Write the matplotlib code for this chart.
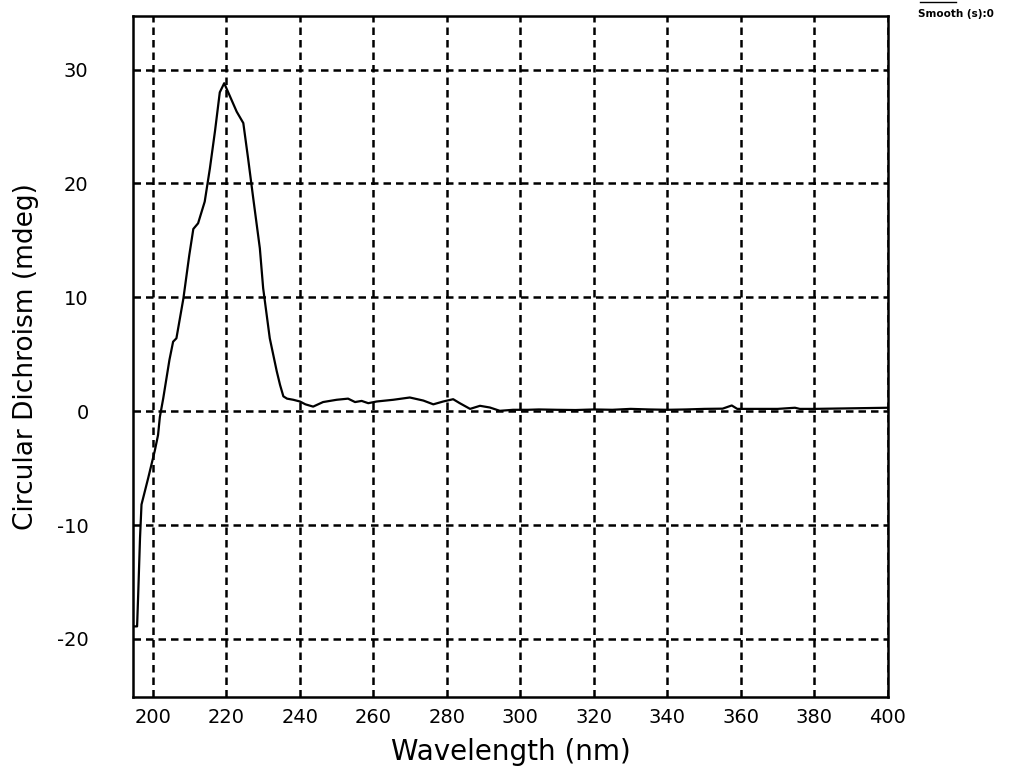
import matplotlib
matplotlib.use("Agg")
import matplotlib.pyplot as plt
from matplotlib.lines import Line2D

plt.rcParams["axes.unicode_minus"] = False

# CD spectrum, wavelength (nm) vs ellipticity (mdeg)
wavelength = [194.8, 195.7, 196.0, 196.5, 196.9, 198.7, 200.5, 201.4, 201.9, 202.8,
              204.5, 205.5, 206.4, 208.3, 209.9, 211.0, 212.3, 214.1, 215.5, 216.9,
              218.2, 219.4, 220.9, 222.8, 224.6, 225.9, 227.3, 229.1, 230.0, 231.8,
              233.7, 234.6, 235.5, 236.5, 238.2, 240.0, 241.5, 243.6, 246.3, 250.0,
              253.1, 255.0, 256.8, 258.6, 260.9, 265.4, 269.9, 273.6, 276.3, 279.0,
              281.7, 283.5, 286.3, 289.0, 291.7, 294.4, 298.0, 302.0, 305.0, 310.0,
              315.0, 320.0, 325.0, 330.0, 335.0, 340.0, 345.0, 350.0, 355.0, 357.5,
              359.0, 365.0, 370.0, 374.7, 376.0, 380.0, 390.0, 400.0]
cd_mdeg = [-18.9, -18.9, -16.1, -11.1, -8.2, -5.9, -3.5, -2.1, -0.5, 1.1,
           4.5, 6.1, 6.4, 9.9, 13.7, 16.0, 16.5, 18.4, 21.3, 24.6,
           28.0, 28.8, 27.7, 26.3, 25.3, 22.2, 18.7, 14.3, 10.8, 6.4,
           3.5, 2.3, 1.3, 1.1, 1.0, 0.85, 0.6, 0.4, 0.8, 1.0,
           1.1, 0.8, 0.9, 0.7, 0.85, 1.0, 1.2, 0.93, 0.6, 0.85,
           1.05, 0.7, 0.2, 0.47, 0.32, 0.03, 0.12, 0.12, 0.15, 0.12,
           0.1, 0.15, 0.12, 0.2, 0.15, 0.12, 0.15, 0.2, 0.22, 0.5,
           0.2, 0.2, 0.2, 0.3, 0.2, 0.2, 0.25, 0.3]

x_ticks = [200, 220, 240, 260, 280, 300, 320, 340, 360, 380, 400]
y_ticks = [-20, -10, 0, 10, 20, 30]

fig = plt.figure(figsize=(10.11, 7.74), dpi=100)
ax = fig.add_axes([0.1316, 0.0995, 0.7467, 0.8798])

ax.plot(wavelength, cd_mdeg, color="black", lw=1.6)

ax.set_xlim(194.6, 400)
ax.set_ylim(-25.1, 34.7)
ax.set_xticks(x_ticks)
ax.set_yticks(y_ticks)

for lab in ax.get_xticklabels() + ax.get_yticklabels():
    lab.set_family("DejaVu Sans")
    lab.set_fontsize(14)
ax.tick_params(axis="y", length=0, pad=32)
ax.tick_params(axis="x", length=0, pad=8)

ax.grid(True, color="black", lw=1.8, linestyle=(0, (3, 2)))
for sp in ax.spines.values():
    sp.set_linewidth(1.8)
    sp.set_color("black")

ax.set_xlabel("Wavelength (nm)", fontsize=20, family="DejaVu Sans", labelpad=8)
ax.set_ylabel("Circular Dichroism (mdeg)", fontsize=19, family="DejaVu Sans")
ax.yaxis.label.set_va("center")
ax.yaxis.set_label_coords(-0.142, 0.5)

fig.text(0.908, 0.975, "Smooth (s):0", fontsize=7.5, fontweight="bold",
         family="DejaVu Sans", va="bottom", ha="left")
fig.add_artist(Line2D([0.910, 0.946], [0.998, 0.998], color="black", lw=1.0,
                      transform=fig.transFigure))

fig.savefig("out.png", dpi=100)
